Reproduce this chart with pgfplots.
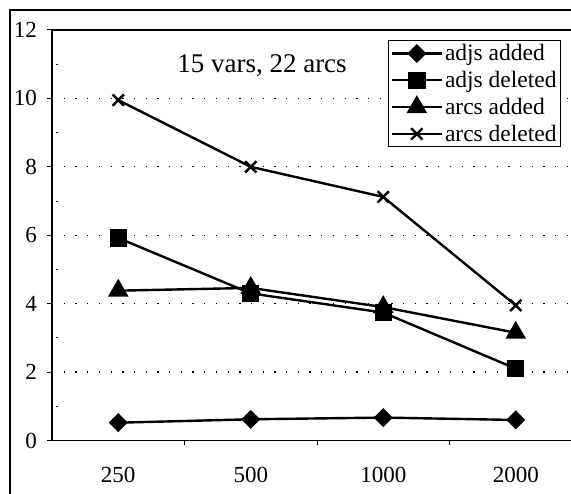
\documentclass[border=0pt]{standalone}
\usepackage{fontspec}
\setmainfont{Liberation Serif}
\usepackage{pgfplots}
\pgfplotsset{compat=1.18}
\begin{document}
\begin{tikzpicture}[x=1pt,y=1pt]
\begin{axis}[
    at={(52pt,53.5pt)}, anchor=south west,
    scale only axis, width=530pt, height=410.5pt,
    xmin=-0.5, xmax=3.5, ymin=0, ymax=12,
    axis line style={line width=1.6pt},
    xtick pos=bottom, ytick pos=left,
    tick align=outside,
    major tick length=5pt,
    minor tick length=2pt,
    tick style={black, line width=1pt},
    xtick={0.5,1.5,2.5}, xticklabels={},
    extra x ticks={0,1,2,3},
    extra x tick labels={250,500,1000,2000},
    extra x tick style={major tick length=0pt},
    ytick={0,2,...,12},
    minor ytick={1,3,...,11},
    every minor tick/.append style={xshift=6pt},
    ymajorgrids,
    grid style={black, line width=1.3pt, dash pattern=on 1.3pt off 10.4pt},
    tick label style={font=\fontsize{23}{25}\selectfont},
    /pgf/number format/assume math mode=true,
    yticklabel style={inner sep=0pt, xshift=-10pt},
    xticklabel style={inner sep=0pt, yshift=-27pt},
    legend style={at={(rel axis cs:0.634,0.9757)}, anchor=north west,
        draw=black, line width=1.2pt, fill=white, inner sep=2pt, row sep=5pt,
        font=\fontsize{23.5}{25}\selectfont, cells={anchor=west}},
    legend image code/.code={\draw[mark repeat=2, mark phase=2]
        plot coordinates {(0pt,0pt)(25pt,0pt)(50pt,0pt)};},
    every axis plot/.append style={black, line width=2.4pt, mark options={solid, fill=black}},
]
\addplot[mark=square*, mark size=5.5pt, mark options={rotate=45}]
    coordinates {(0,0.52) (1,0.62) (2,0.67) (3,0.60)};
\addlegendentry{adjs added}
\addplot[mark=square*, mark size=7.5pt]
    coordinates {(0,5.92) (1,4.30) (2,3.74) (3,2.10)};
\addlegendentry{adjs deleted}
\addplot[mark=triangle*, mark size=9.5pt]
    coordinates {(0,4.38) (1,4.46) (2,3.90) (3,3.15)};
\addlegendentry{arcs added}
\addplot[mark=x, mark size=8pt]
    coordinates {(0,9.95) (1,8.00) (2,7.12) (3,3.95)};
\addlegendentry{arcs deleted}
\node[anchor=base, font=\fontsize{27}{29}\selectfont] at (axis cs:1.085,10.77) {15 vars, 22 arcs};
\end{axis}
\draw[line width=1.6pt] (10pt,-20pt) rectangle (600pt,484pt);
\pgfresetboundingbox
\useasboundingbox (0,0) rectangle (571pt,494pt);
\end{tikzpicture}
\end{document}
